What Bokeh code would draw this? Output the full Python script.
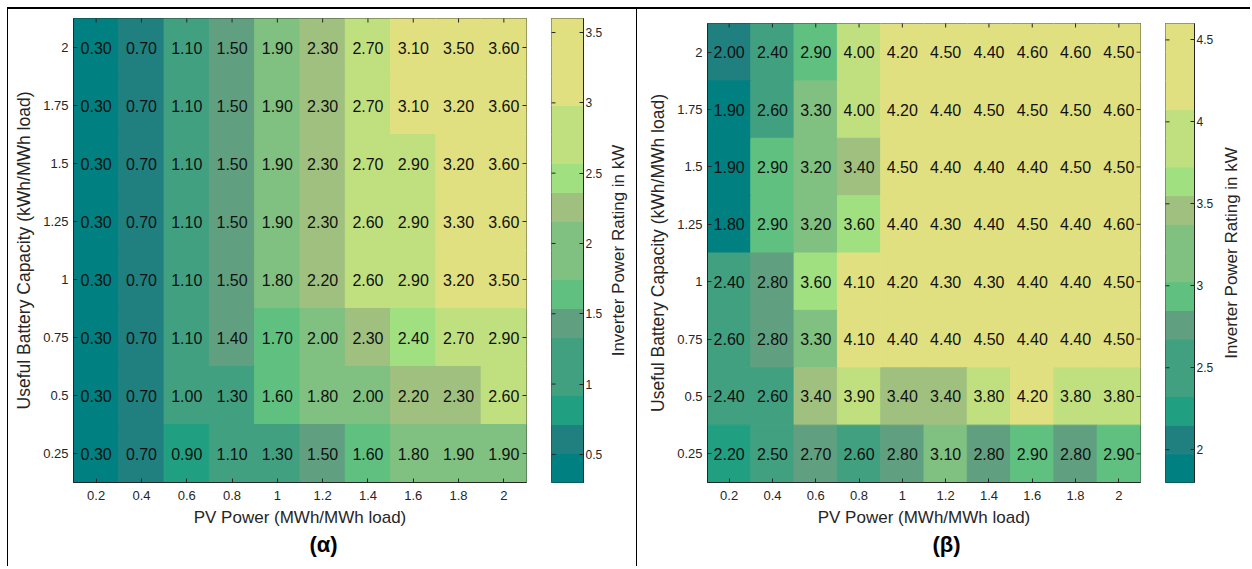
import math
from bokeh.plotting import figure
from bokeh.models import (ColumnDataSource, LinearColorMapper, Range1d, FixedTicker,
                          NumeralTickFormatter, Spacer)
from bokeh.layouts import row, column
from bokeh.embed import file_html
from bokeh.resources import INLINE
from bokeh.core.properties import value

# ---------------- data ----------------
pv_power = [0.2, 0.4, 0.6, 0.8, 1.0, 1.2, 1.4, 1.6, 1.8, 2.0]
battery_capacity = [2.0, 1.75, 1.5, 1.25, 1.0, 0.75, 0.5, 0.25]   # rows, top to bottom

inverter_alpha = [
    [0.30, 0.70, 1.10, 1.50, 1.90, 2.30, 2.70, 3.10, 3.50, 3.60],
    [0.30, 0.70, 1.10, 1.50, 1.90, 2.30, 2.70, 3.10, 3.20, 3.60],
    [0.30, 0.70, 1.10, 1.50, 1.90, 2.30, 2.70, 2.90, 3.20, 3.60],
    [0.30, 0.70, 1.10, 1.50, 1.90, 2.30, 2.60, 2.90, 3.30, 3.60],
    [0.30, 0.70, 1.10, 1.50, 1.80, 2.20, 2.60, 2.90, 3.20, 3.50],
    [0.30, 0.70, 1.10, 1.40, 1.70, 2.00, 2.30, 2.40, 2.70, 2.90],
    [0.30, 0.70, 1.00, 1.30, 1.60, 1.80, 2.00, 2.20, 2.30, 2.60],
    [0.30, 0.70, 0.90, 1.10, 1.30, 1.50, 1.60, 1.80, 1.90, 1.90],
]

inverter_beta = [
    [2.00, 2.40, 2.90, 4.00, 4.20, 4.50, 4.40, 4.60, 4.60, 4.50],
    [1.90, 2.60, 3.30, 4.00, 4.20, 4.40, 4.50, 4.50, 4.50, 4.60],
    [1.90, 2.90, 3.20, 3.40, 4.50, 4.40, 4.40, 4.40, 4.50, 4.50],
    [1.80, 2.90, 3.20, 3.60, 4.40, 4.30, 4.40, 4.50, 4.40, 4.60],
    [2.40, 2.80, 3.60, 4.10, 4.20, 4.30, 4.30, 4.40, 4.40, 4.50],
    [2.60, 2.80, 3.30, 4.10, 4.40, 4.40, 4.50, 4.40, 4.40, 4.50],
    [2.40, 2.60, 3.40, 3.90, 3.40, 3.40, 3.80, 4.20, 3.80, 3.80],
    [2.20, 2.50, 2.70, 2.60, 2.80, 3.10, 2.80, 2.90, 2.80, 2.90],
]

palette = [
    "#008080", "#208080", "#20a080", "#40a080", "#40a080", "#60a080",
    "#60c080", "#80c080", "#80c080", "#a0c080", "#a0e080", "#c0e080",
    "#c0e080", "#e0e080", "#e0e080", "#e0e080",
]

x_ticks = [0.2, 0.4, 0.6, 0.8, 1.0, 1.2, 1.4, 1.6, 1.8, 2.0]
y_ticks = [0.25, 0.5, 0.75, 1.0, 1.25, 1.5, 1.75, 2.0]
cbar_ticks_alpha = [0.5, 1.0, 1.5, 2.0, 2.5, 3.0, 3.5]
cbar_ticks_beta = [2.0, 2.5, 3.0, 3.5, 4.0, 4.5]
captions = ["(α)", "(β)"]
x_label = "PV Power (MWh/MWh load)"
y_label = "Useful Battery Capacity (kWh/MWh load)"
cbar_label = "Inverter Power Rating in kW"

FONT = "Liberation Sans"
DARK = "#262626"
MT, MB = 9, 84          # frame margins shared by every figure


def style_axis(ax, ticks, fmt, size):
    ax.ticker = FixedTicker(ticks=ticks)
    ax.formatter = NumeralTickFormatter(format=fmt)
    ax.major_tick_in = 4
    ax.major_tick_out = 0
    ax.minor_tick_line_color = None
    ax.axis_line_color = DARK
    ax.major_tick_line_color = DARK
    ax.major_label_text_font = FONT
    ax.major_label_text_font_size = size
    ax.major_label_text_color = DARK
    ax.axis_label_text_font = FONT
    ax.axis_label_text_font_style = "normal"
    ax.axis_label_text_color = DARK


def base_fig(width, height, ml, mr, styles, **kw):
    return figure(width=width, height=height, output_backend="svg", toolbar_location=None,
                  min_border_left=ml, min_border_right=mr, min_border_top=MT,
                  min_border_bottom=MB, styles=styles, **kw)


def heat_fig(values, width, height, ml, mr, caption, cap_offset, styles):
    xs, ys, vs, ts = [], [], [], []
    for r, yv in enumerate(battery_capacity):
        for c, xv in enumerate(pv_power):
            xs.append(xv)
            ys.append(yv)
            vs.append(values[r][c])
            ts.append(f"{values[r][c]:.2f}")
    mapper = LinearColorMapper(palette=palette, low=min(vs), high=max(vs))
    src = ColumnDataSource(dict(x=xs, y=ys, v=vs, t=ts))
    dx = pv_power[1] - pv_power[0]
    dy = battery_capacity[0] - battery_capacity[1]
    xr = Range1d(min(pv_power) - dx / 2, max(pv_power) + dx / 2)
    yr = Range1d(min(battery_capacity) - dy / 2, max(battery_capacity) + dy / 2)
    p = base_fig(width, height, ml, mr, styles, x_range=xr, y_range=yr,
                 title=caption, title_location="below")
    p.rect(x="x", y="y", width=dx, height=dy, source=src,
           fill_color={"field": "v", "transform": mapper},
           line_color={"field": "v", "transform": mapper}, line_width=1)
    p.text(x="x", y="y", text="t", source=src, text_align="center", text_baseline="middle",
           text_font=value(FONT), text_font_size="16px", text_color="#111111")
    # inward ticks on the top and right edges of the box
    p.scatter(x=x_ticks, y=[yr.end] * len(x_ticks), marker="dash", size=8,
              angle=math.pi / 2, line_color=DARK, line_width=1)
    p.scatter(x=[xr.end] * len(y_ticks), y=y_ticks, marker="dash", size=8,
              angle=0, line_color=DARK, line_width=1)
    p.grid.visible = False
    p.outline_line_color = DARK
    style_axis(p.xaxis[0], x_ticks, "0.[00]", "13px")
    style_axis(p.yaxis[0], y_ticks, "0.[00]", "13px")
    p.xaxis[0].axis_label = x_label
    p.xaxis[0].axis_label_text_font_size = "17px"
    p.xaxis[0].major_label_standoff = 8
    p.xaxis[0].axis_label_standoff = 5
    p.yaxis[0].axis_label = y_label
    p.yaxis[0].axis_label_text_font_size = "17.5px"
    p.yaxis[0].major_label_standoff = 5
    p.yaxis[0].axis_label_standoff = 6
    t = p.title
    t.align = "left"
    t.offset = cap_offset
    t.standoff = 0
    t.text_font = FONT
    t.text_font_style = "bold"
    t.text_font_size = "22px"
    t.text_color = "#000000"
    return p


def cbar_fig(values, ticks, width, height, ml, mr, styles):
    flat = [v for r in values for v in r]
    lo, hi = min(flat), max(flat)
    n = len(palette)
    step = (hi - lo) / n
    bottoms = [lo + i * step for i in range(n)]
    tops = [lo + (i + 1) * step for i in range(n)]
    p = base_fig(width, height, ml, mr, styles, x_range=Range1d(0, 1),
                 y_range=Range1d(lo, hi), y_axis_location="right", title_location="below")
    p.quad(left=0, right=1, bottom=bottoms, top=tops, fill_color=palette, line_color=palette)
    p.scatter(x=[0] * len(ticks), y=ticks, marker="dash", size=8, angle=0,
              line_color=DARK, line_width=1)
    p.grid.visible = False
    p.xaxis.visible = False
    p.outline_line_color = DARK
    ax = p.yaxis[0]
    style_axis(ax, ticks, "0.[0]", "12px")
    ax.major_label_standoff = 2
    return p


def cbar_label_fig(width, height, ml, styles):
    # narrow strip whose left axis carries the colour-bar title (reads bottom to top)
    p = base_fig(width, height, ml, 0, styles, x_range=Range1d(0, 1),
                 y_range=Range1d(0, 1), title_location="below")
    p.grid.visible = False
    p.xaxis.visible = False
    p.outline_line_color = None
    ax = p.yaxis[0]
    ax.ticker = FixedTicker(ticks=[])
    ax.axis_line_color = None
    ax.major_tick_line_color = None
    ax.minor_tick_line_color = None
    ax.major_label_standoff = 0
    ax.major_tick_in = 0
    ax.major_tick_out = 0
    ax.axis_label = cbar_label
    ax.axis_label_standoff = 4
    ax.axis_label_text_font = FONT
    ax.axis_label_text_font_style = "normal"
    ax.axis_label_text_font_size = "17px"
    ax.axis_label_text_color = DARK
    return p


HA = 557   # panel (α) canvas height
HB = 552   # panel (β) canvas height (its box starts 5px lower)

h1 = heat_fig(inverter_alpha, 532, HA, 65, 14, captions[0], 236,
              {"border-left": "1px solid black"})
c1 = cbar_fig(inverter_alpha, cbar_ticks_alpha, 66, HA, 12, 20, {})
l1 = cbar_label_fig(32, HA, 26, {"border-right": "1px solid black"})
h2 = heat_fig(inverter_beta, 511, HB, 70, 8, captions[1], 225, {})
c2 = cbar_fig(inverter_beta, cbar_ticks_beta, 68, HB, 17, 19, {})
l2 = cbar_label_fig(32, HB, 28, {})

top_rule = row(Spacer(width=7, height=9),
               Spacer(width=1243, height=9, styles={"border-bottom": "2px solid black"}))
panel_a = row(h1, c1, l1)
panel_b = column(Spacer(height=5), row(h2, c2, l2))
layout = column(top_rule, row(Spacer(width=7, height=HA), panel_a, panel_b))
open("out.html", "w").write(file_html(layout, INLINE))
